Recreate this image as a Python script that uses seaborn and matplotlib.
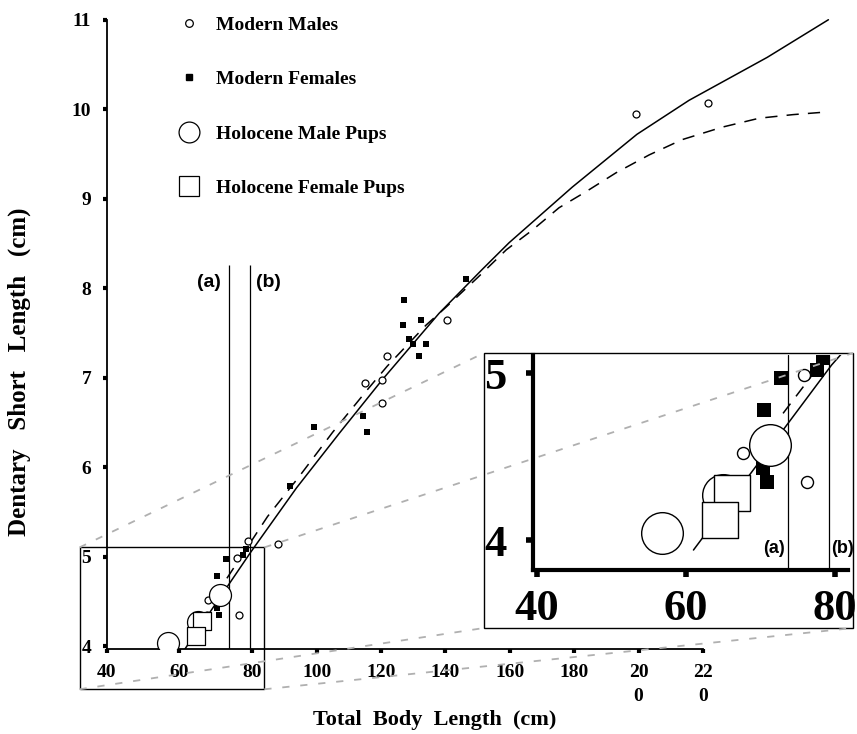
import numpy as np
import matplotlib
matplotlib.use('Agg')
import matplotlib.pyplot as plt
import seaborn as sns
from matplotlib.lines import Line2D
from matplotlib.patches import Rectangle

# --- data: total body length (cm) vs dentary short length (cm)
male_len = [67.7, 67.6, 75.8, 76.2, 78.9, 88.1, 114.9, 120.2, 120.2, 121.7, 140.6, 199.3, 221.6]
male_dsl = [4.52, 4.35, 4.99, 4.35, 5.18, 5.14, 6.94, 6.98, 6.72, 7.24, 7.64, 9.95, 10.07]

fem_len = [70.9, 70.3, 70.4, 72.7, 77.5, 78.3, 91.8, 99.1, 114.3, 115.5,
           126.9, 127.2, 128.8, 130.0, 131.9, 132.5, 134.0, 146.3]
fem_dsl = [4.35, 4.43, 4.78, 4.97, 5.02, 5.09, 5.79, 6.45, 6.57, 6.39,
           7.59, 7.87, 7.43, 7.38, 7.24, 7.64, 7.38, 8.10]

pup_m_len = [71.2, 56.8, 65.0]
pup_m_dsl = [4.57, 4.04, 4.27]
pup_f_len = [66.2, 64.5]
pup_f_dsl = [4.28, 4.12]

# growth curves (solid and dashed)
fit1_len = [61, 70, 79.5, 93.7, 107, 120.4, 138, 151.4, 159.8, 179.4, 199.5, 215.7, 240, 259]
fit1_dsl = [3.94, 4.48, 5.05, 5.77, 6.38, 6.98, 7.72, 8.21, 8.51, 9.13, 9.72, 10.10, 10.58, 11.0]
fit2_len = [73, 84.7, 94.6, 104.9, 115.8, 121.9, 134, 140.2, 150, 158.9, 167, 175.3,
            183.7, 193, 203.3, 213.5, 226, 237.5, 248, 258.6]
fit2_dsl = [4.76, 5.45, 5.90, 6.39, 6.87, 7.13, 7.59, 7.79, 8.12, 8.43, 8.65, 8.90,
            9.08, 9.29, 9.49, 9.66, 9.80, 9.90, 9.94, 9.97]

cut_a = 73.6
cut_b = 79.2

x_ticks = [40, 60, 80, 100, 120, 140, 160, 180, 200, 220]
x_ticklabels = ['40', '60', '80', '100', '120', '140', '160', '180', '20\n0', '22\n0']
y_ticks = [4, 5, 6, 7, 8, 9, 10, 11]

sns.set_style('ticks')
plt.rcParams['font.family'] = ['Liberation Serif', 'DejaVu Serif']
plt.rcParams['font.weight'] = 'bold'
for key in ['text.color', 'axes.labelcolor', 'xtick.color', 'ytick.color', 'axes.edgecolor']:
    plt.rcParams[key] = 'black'

fig = plt.figure(figsize=(8.57, 7.34), dpi=100)

# the original x axis is stretched below 80 cm
K = 3.65 / 3.22
def fwd(x):
    x = np.asarray(x, float)
    return np.where(x < 80, 80 + (x - 80) * K, x)
def inv(u):
    u = np.asarray(u, float)
    return np.where(u < 80, 80 + (u - 80) / K, u)

ax = fig.add_axes([0.1243, 0.1158, 0.8442, 0.8634])
ax.set_xscale('function', functions=(fwd, inv))


def draw_data(a, s_small_c, s_small_s, s_big_c, s_big_s, lw_line, lw_mark):
    sns.lineplot(x=fit1_len, y=fit1_dsl, color='black', lw=lw_line, ax=a, zorder=1)
    sns.lineplot(x=fit2_len, y=fit2_dsl, color='black', lw=lw_line,
                 linestyle=(0, (8, 6)), ax=a, zorder=1)
    sns.scatterplot(x=fem_len, y=fem_dsl, marker='s', s=s_small_s, color='black',
                    edgecolor='black', linewidth=0, ax=a, zorder=3, legend=False)
    sns.scatterplot(x=male_len, y=male_dsl, marker='o', s=s_small_c, facecolor='white',
                    edgecolor='black', linewidth=lw_mark, ax=a, zorder=3, legend=False)
    sns.scatterplot(x=pup_m_len, y=pup_m_dsl, marker='o', s=s_big_c, facecolor='white',
                    edgecolor='black', linewidth=lw_mark, ax=a, zorder=4, legend=False)
    sns.scatterplot(x=pup_f_len, y=pup_f_dsl, marker='s', s=s_big_s, facecolor='white',
                    edgecolor='black', linewidth=lw_mark, ax=a, zorder=5, legend=False)


draw_data(ax, 25, 20, 250, 170, 1.1, 0.9)

ax.set_xlim(40, 259.5)
ax.set_ylim(3.97, 11.05)
sns.despine(ax=ax)
ax.spines['bottom'].set_bounds(40, 220)
ax.spines['left'].set_bounds(3.97, 11)
for sp in ['left', 'bottom']:
    ax.spines[sp].set_linewidth(1.3)
ax.set_xticks(x_ticks)
ax.set_xticklabels(x_ticklabels)
ax.set_yticks(y_ticks)
ax.tick_params(direction='out', length=3, width=3, labelsize=14, pad=8)
for lab in ax.get_xticklabels():
    lab.set_linespacing(1.5)

ax.vlines([cut_a, cut_b], 3.97, 8.26, color='black', lw=0.9, zorder=2)
ax.text(cut_a - 2.2, 8.06, '(a)', ha='right', va='center', fontsize=14,
        family='Liberation Sans', weight='bold')
ax.text(cut_b + 2.0, 8.06, '(b)', ha='left', va='center', fontsize=14,
        family='Liberation Sans', weight='bold')

ax.set_xlabel('Total  Body  Length  (cm)', fontsize=16, weight='bold', va='center')
ax.xaxis.set_label_coords(0.454, -0.112)
ax.set_ylabel('Dentary   Short   Length   (cm)', fontsize=18, weight='bold', va='center')
ax.yaxis.set_label_coords(-0.12, 0.437)

handles = [
    Line2D([], [], marker='o', ls='none', mfc='white', mec='black', ms=5.5, mew=0.9),
    Line2D([], [], marker='s', ls='none', mfc='black', mec='black', ms=5.0),
    Line2D([], [], marker='o', ls='none', mfc='white', mec='black', ms=15, mew=0.9),
    Line2D([], [], marker='s', ls='none', mfc='white', mec='black', ms=14, mew=0.9),
]
labels = ['Modern Males', 'Modern Females', 'Holocene Male Pups', 'Holocene Female Pups']
ax.legend(handles, labels, loc='upper left', bbox_to_anchor=(179 / 857, 1 - 16 / 734),
          bbox_transform=fig.transFigure, frameon=False, fontsize=14, handlelength=1.0,
          handletextpad=0.9, labelspacing=1.9, borderpad=0, borderaxespad=0)

# --- zoomed inset of the 40-80 cm region
axi = fig.add_axes([0.6219, 0.2234, 0.3676, 0.2929])
draw_data(axi, 75, 110, 900, 700, 1.1, 1.0)
axi.set_xlim(39.5, 81.7)
axi.set_ylim(3.82, 5.11)
axi.set_facecolor('white')
sns.despine(ax=axi)
for sp in ['left', 'bottom']:
    axi.spines[sp].set_linewidth(3)
axi.set_xticks([40, 60, 80])
axi.set_yticks([4, 5])
axi.tick_params(direction='out', length=5, width=4, labelsize=32)
axi.tick_params(axis='x', pad=9)
axi.tick_params(axis='y', pad=14)
axi.axvline(cut_a, color='black', lw=0.9, zorder=2)
axi.axvline(cut_b, color='black', lw=0.9, zorder=2)
axi.text(cut_a - 0.4, 3.95, '(a)', ha='right', va='center', fontsize=13,
         family='Liberation Sans', weight='bold')
axi.text(cut_b + 0.2, 3.95, '(b)', ha='left', va='center', fontsize=13,
         family='Liberation Sans', weight='bold')

# --- boxes and connector lines
zoom_box = Rectangle((32.6, 3.52), 83.7 - 32.6, 5.105 - 3.52, fill=False,
                     lw=1.0, ec='black', clip_on=False, zorder=6)
ax.add_patch(zoom_box)

x0, y0, w0, h0 = 484 / 857, 1 - 628 / 734, 369 / 857, 275 / 734
fig.add_artist(Rectangle((x0, y0), w0, h0, fill=False, lw=1.0, ec='black',
                         transform=fig.transFigure))

to_fig = ax.transData + fig.transFigure.inverted()
small = {
    'tl': to_fig.transform((32.6, 5.105)), 'tr': to_fig.transform((83.7, 5.105)),
    'bl': to_fig.transform((32.6, 3.52)), 'br': to_fig.transform((83.7, 3.52)),
}
big = {'tl': (x0, y0 + h0), 'tr': (x0 + w0, y0 + h0), 'bl': (x0, y0), 'br': (x0 + w0, y0)}
for key in small:
    fig.add_artist(Line2D([small[key][0], big[key][0]], [small[key][1], big[key][1]],
                          transform=fig.transFigure, color='#b0b0b0', lw=1.3,
                          ls=(0, (4, 6)), zorder=10))

plt.savefig('out.png', dpi=100)
